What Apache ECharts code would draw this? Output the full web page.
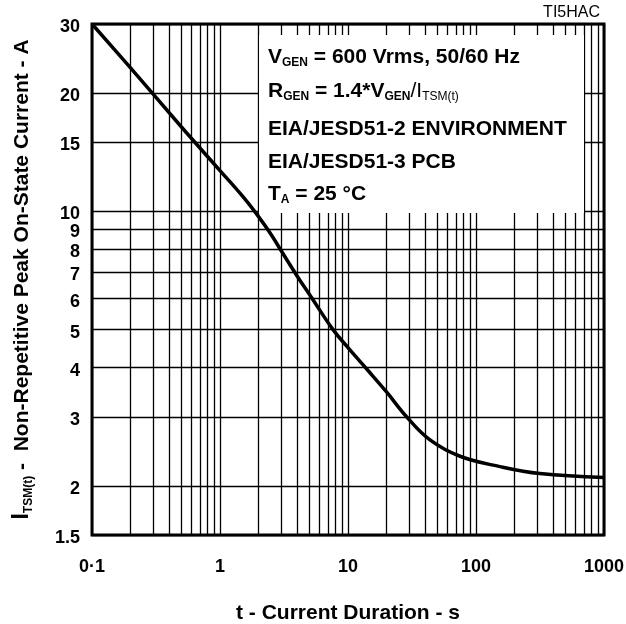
<!DOCTYPE html>
<html><head><meta charset="utf-8">
<script src="https://cdn.jsdelivr.net/npm/echarts@6/dist/echarts.min.js"></script>
<style>html,body{margin:0;padding:0;background:#fff}#c{width:626px;height:624px}</style>
</head><body><div id="c"></div>
<script>
// ---- data ----
const durations = [0.1, 0.2, 0.5, 1, 1.5, 2, 2.5, 3, 4, 5.2, 7.64, 10, 14, 20, 28.7, 43.7, 75, 154, 316, 1000];
const currents  = [30, 23.2, 16.4, 12.7, 10.93, 9.7, 8.75, 7.95, 6.85, 6.03, 5.0, 4.5, 3.97, 3.47, 3.0, 2.62, 2.38, 2.24, 2.15, 2.10];

const xTickValues = [0.1, 1, 10, 100, 1000];
const xTickLabels = ['0·1', '1', '10', '100', '1000'];
const xMinorGrid = [0.2,0.3,0.4,0.5,0.6,0.7,0.8,0.9, 2,3,4,5,6,7,8,9, 20,30,40,50,60,70,80,90, 200,300,400,500,600,700,800,900];

const yTickValues = [1.5, 2, 3, 4, 5, 6, 7, 8, 9, 10, 15, 20, 30];
const yTickLabels = ['1.5', '2', '3', '4', '5', '6', '7', '8', '9', '10', '15', '20', '30'];

const FONT = 'Liberation Sans, Arial, sans-serif';

const chart = echarts.init(document.getElementById('c'), null, {renderer: 'canvas'});

const vLines = xMinorGrid.map(v => ({xAxis: v, label: {show: false}}))
  .concat(xTickValues.map((v, i) => ({xAxis: v, label: {show: true, formatter: xTickLabels[i]}})));
const hLines = yTickValues.map((v, i) => ({yAxis: v, label: {show: true, formatter: yTickLabels[i]}}));

const gridLineStyle = {color: '#000', width: 1.3, type: 'solid'};
const tickLabel = {color: '#000', fontSize: 18, fontWeight: 'bold', fontFamily: FONT};

const mainRich = {
  m: {fontSize: 21, fontWeight: 'bold', fontFamily: FONT, lineHeight: 24, color: '#000'},
  s: {fontSize: 12, fontWeight: 'bold', fontFamily: FONT, lineHeight: 10, verticalAlign: 'bottom', color: '#000'},
  n: {fontSize: 21, fontWeight: 'normal', fontFamily: FONT, lineHeight: 24, color: '#000'},
  ns: {fontSize: 12, fontWeight: 'normal', fontFamily: FONT, lineHeight: 10, verticalAlign: 'bottom', color: '#000'}
};
function annot(y, text) {
  return {type: 'text', x: 268, y: y, z: 120,
    style: {text: text, rich: mainRich, fill: '#000', align: 'left', verticalAlign: 'middle',
      fontFamily: FONT, fontSize: 21, fontWeight: 'bold'}};
}

const option = {
  animation: false,
  backgroundColor: '#fff',
  textStyle: {fontFamily: FONT},
  grid: {left: 92, right: 22, top: 24, bottom: 89, show: true, borderColor: '#000', borderWidth: 3,
    containLabel: false, outerBoundsMode: 'none'},
  xAxis: {
    type: 'log', logBase: 10, min: 0.1, max: 1000,
    axisLine: {show: false}, axisTick: {show: false}, axisLabel: {show: false},
    splitLine: {show: false}, minorTick: {show: false}, minorSplitLine: {show: false},
    name: 't - Current Duration - s', nameLocation: 'middle', nameGap: 68,
    nameTextStyle: {color: '#000', fontSize: 21, fontWeight: 'bold', fontFamily: FONT}
  },
  yAxis: {
    type: 'log', logBase: 10, min: 1.5, max: 30,
    axisLine: {show: false}, axisTick: {show: false}, axisLabel: {show: false},
    splitLine: {show: false}, minorTick: {show: false}, minorSplitLine: {show: false},
    name: '{big|I}{sub|TSM(t)}{t| -  Non-Repetitive Peak On-State Current - A}',
    nameLocation: 'middle', nameRotate: 90, nameGap: 57,
    nameTextStyle: {
      color: '#000', fontSize: 21, fontWeight: 'bold', fontFamily: FONT,
      rich: {
        big: {fontSize: 23, fontWeight: 'bold', fontFamily: FONT, lineHeight: 26, color: '#000'},
        sub: {fontSize: 12, fontWeight: 'bold', fontFamily: FONT, lineHeight: 11, verticalAlign: 'bottom', color: '#000'},
        t: {fontSize: 21, fontWeight: 'bold', fontFamily: FONT, lineHeight: 26, color: '#000'}
      }
    }
  },
  graphic: [
    {type: 'rect', shape: {x: 259, y: 35, width: 325, height: 178}, style: {fill: '#fff'}, z: 100},
    annot(57, '{m|V}{s|GEN}{m| = 600 Vrms, 50/60 Hz}'),
    annot(91, '{m|R}{s|GEN}{m| = 1.4*V}{s|GEN}{n|/I}{ns|TSM(t)}'),
    annot(129, '{m|EIA/JESD51-2 ENVIRONMENT}'),
    annot(162.5, '{m|EIA/JESD51-3 PCB}'),
    annot(194, '{m|T}{s|A}{m| = 25 °C}'),
    {type: 'text', x: 600, y: 12.5, z: 120,
      style: {text: 'TI5HAC', align: 'right', verticalAlign: 'middle', fontSize: 16, fontFamily: FONT, fill: '#000'}}
  ],
  series: [
    {
      name: 'vgrid', type: 'line', data: [], z: 2, silent: true,
      markLine: {
        silent: true, symbol: 'none', animation: false,
        lineStyle: gridLineStyle,
        label: Object.assign({position: 'start', distance: 23}, tickLabel),
        emphasis: {disabled: true},
        data: vLines
      }
    },
    {
      name: 'hgrid', type: 'line', data: [], z: 2, silent: true,
      markLine: {
        silent: true, symbol: 'none', animation: false,
        lineStyle: gridLineStyle,
        label: Object.assign({position: 'start', distance: 12, verticalAlign: 'top', lineHeight: 6}, tickLabel),
        emphasis: {disabled: true},
        data: hLines
      }
    },
    {
      name: 'ITSM', type: 'line', z: 110, silent: true,
      data: durations.map((t, i) => [t, currents[i]]),
      showSymbol: false, symbol: 'none', smooth: 0.4,
      lineStyle: {color: '#000', width: 3.5}
    }
  ]
};
chart.setOption(option);
</script>
</body></html>
